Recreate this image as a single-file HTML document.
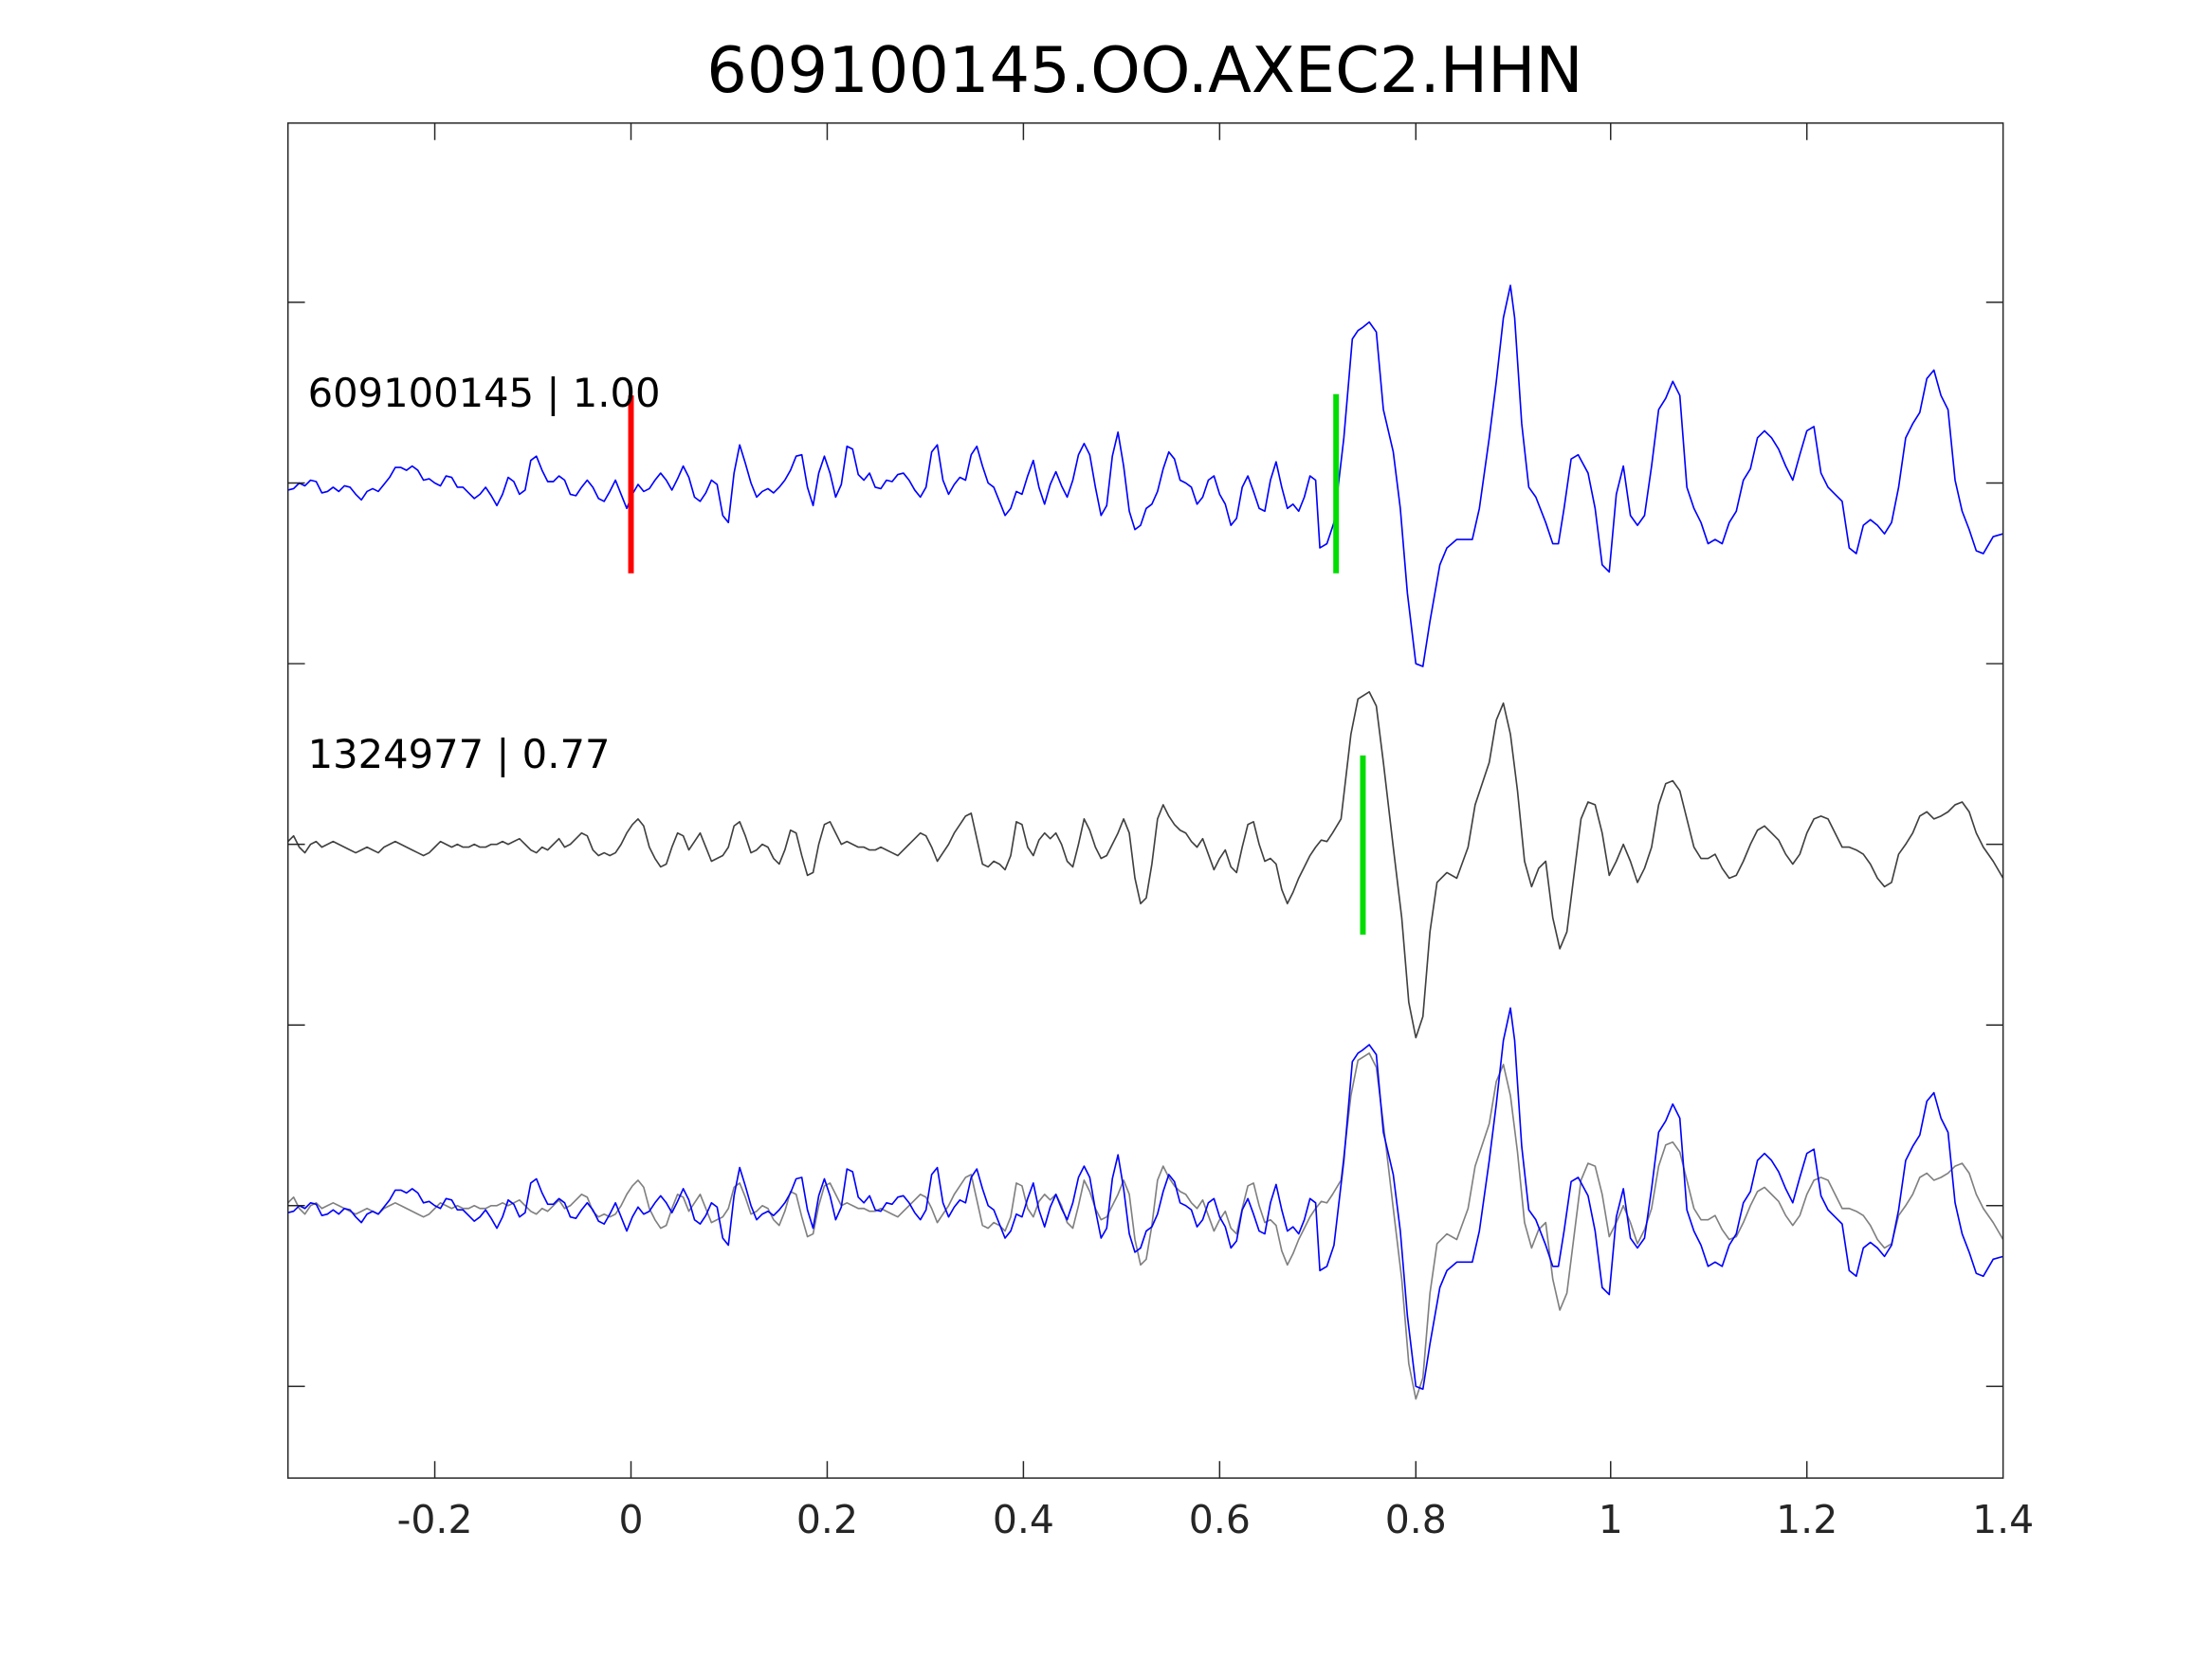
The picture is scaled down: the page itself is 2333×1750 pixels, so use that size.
<!DOCTYPE html>
<html><head><meta charset="utf-8"><style>html,body{margin:0;padding:0;background:#fff}svg{display:block}</style></head>
<body>
<svg width="2333" height="1750" viewBox="0 0 1567 1175" xmlns="http://www.w3.org/2000/svg" font-family="DejaVu Sans, Liberation Sans, sans-serif">
<rect width="1567" height="1175" fill="#fff"/>
<defs>
<polyline id="bt" fill="none" stroke-linejoin="round" points="204,347 208,346 212,342 216,344 220,340 224,341 228,349 232,348 236,345 240,348 244,344 248,345 252,350 256,354 260,348 264,346 268,348 272,343 276,338 280,331 284,331 288,333 292,330 296,333 300,340 304,339 308,342 312,344 316,337 320,338 324,345 328,345 332,349 336,353 340,350 344,345 348,351 352,358 356,350 360,338 364,341 368,350 372,347 376,326 380,323 384,333 388,341 392,341 396,337 400,340 404,350 408,351 412,345 416,340 420,345 424,353 428,355 432,348 436,340 440,350 444,360 448,350 452,343 456,348 460,346 464,340 468,335 472,340 476,347 480,339 484,330 488,338 492,352 496,355 500,349 504,340 508,343 512,365 516,370 520,335 524,315 528,328 532,342 536,352 540,348 544,346 548,349 552,345 556,340 560,333 564,323 568,322 572,345 576,358 580,335 584,323 588,335 592,352 596,343 600,316 604,318 608,336 612,340 616,335 620,345 624,346 628,340 632,341 636,336 640,335 644,340 648,347 652,352 656,345 660,320 664,315 668,340 672,350 676,343 680,338 684,340 688,322 692,316 696,330 700,342 704,345 708,355 712,365 716,360 720,348 724,350 728,337 732,326 736,345 740,357 744,343 748,334 752,344 756,352 760,340 764,322 768,314 772,322 776,345 780,365 784,358 788,323 792,306 796,330 800,362 804,375 808,372 812,360 816,357 820,348 824,332 828,320 832,325 836,340 840,342 844,345 848,357 852,352 856,340 860,337 864,350 868,357 872,372 876,367 880,345 884,337 888,348 892,360 896,362 900,340 904,327 908,345 912,360 916,357 920,362 924,352 928,337 932,340 935,388 940,385 945,370 952,310 958,240 962,234 965,232 970,228 975,235 980,290 987,320 992,360 997,420 1003,470 1008,472 1013,440 1020,400 1025,388 1032,382 1043,382 1048,360 1055,310 1060,270 1065,225 1070,202 1073,225 1078,300 1083,345 1088,352 1095,370 1100,385 1104,385 1108,360 1113,325 1118,322 1125,335 1130,360 1135,400 1140,405 1145,350 1150,330 1155,365 1160,372 1165,365 1170,330 1175,290 1180,282 1185,270 1190,280 1195,345 1200,360 1205,370 1210,385 1215,382 1220,385 1225,370 1230,362 1235,340 1240,332 1245,310 1250,305 1255,310 1260,318 1265,330 1270,340 1275,322 1280,305 1285,302 1290,335 1295,345 1300,350 1305,355 1310,388 1315,392 1320,372 1325,368 1330,372 1335,378 1340,370 1345,345 1350,310 1355,300 1360,292 1365,268 1370,262 1375,280 1380,290 1385,340 1390,362 1395,375 1400,390 1405,392 1412,380 1419,378"/>
<polyline id="gt" fill="none" stroke-linejoin="round" points="204,596 208,592 212,600 216,604 220,598 224,596 228,600 232,598 236,596 240,598 244,600 248,602 252,604 256,602 260,600 264,602 268,604 272,600 276,598 280,596 284,598 288,600 292,602 296,604 300,606 304,604 308,600 312,596 316,598 320,600 324,598 328,600 332,600 336,598 340,600 344,600 348,598 352,598 356,596 360,598 364,596 368,594 372,598 376,602 380,604 384,600 388,602 392,598 396,594 400,600 404,598 408,594 412,590 416,592 420,602 424,606 428,604 432,606 436,604 440,598 444,590 448,584 452,580 456,585 460,600 464,608 468,614 472,612 476,600 480,590 484,592 488,602 492,596 496,590 500,600 504,610 508,608 512,606 516,600 520,585 524,582 528,592 532,604 536,602 540,598 544,600 548,608 552,612 556,602 560,588 564,590 568,606 572,620 576,618 580,598 584,584 588,582 592,590 596,598 600,596 604,598 608,600 612,600 616,602 620,602 624,600 628,602 632,604 636,606 640,602 644,598 648,594 652,590 656,592 660,600 664,610 668,604 672,598 676,590 680,584 684,578 688,576 692,594 696,612 700,614 704,610 708,612 712,616 716,606 720,582 724,584 728,600 732,606 736,595 740,590 744,594 748,590 752,598 756,610 760,614 764,598 768,580 772,588 776,600 780,608 784,606 788,598 792,590 796,580 800,590 804,622 808,640 812,636 816,612 820,580 824,570 828,578 832,584 836,588 840,590 844,596 848,600 852,594 856,605 860,616 864,608 868,602 872,614 876,618 880,600 884,584 888,582 892,598 896,610 900,608 904,612 908,630 912,640 916,632 920,622 924,614 928,606 932,600 936,595 940,596 944,590 950,580 957,520 962,495 970,490 975,500 980,540 987,600 993,650 998,710 1003,735 1008,720 1013,660 1018,625 1025,618 1032,622 1040,600 1045,570 1050,555 1055,540 1060,510 1065,498 1070,520 1075,560 1080,610 1085,628 1090,615 1095,610 1100,650 1105,672 1110,660 1115,620 1120,580 1125,568 1130,570 1135,590 1140,620 1145,610 1150,598 1155,610 1160,625 1165,615 1170,600 1175,570 1180,555 1185,553 1190,560 1195,580 1200,600 1205,608 1210,608 1215,605 1220,615 1225,622 1230,620 1235,610 1240,598 1245,588 1250,585 1255,590 1260,595 1265,605 1270,612 1275,605 1280,590 1285,580 1290,578 1295,580 1300,590 1305,600 1310,600 1315,602 1320,605 1325,612 1330,622 1335,628 1340,625 1345,605 1350,598 1355,590 1360,578 1365,575 1370,580 1375,578 1380,575 1385,570 1390,568 1395,575 1400,590 1405,600 1412,610 1419,622"/>
</defs>
<text x="811" y="65" font-size="45" text-anchor="middle" fill="#000">609100145.OO.AXEC2.HHN</text>
<use href="#gt" stroke="#404040" stroke-width="1.1"/>
<use href="#gt" transform="translate(0,256)" stroke="#808080" stroke-width="1.1"/>
<use href="#bt" stroke="#0000ff" stroke-width="1.1"/>
<use href="#bt" transform="translate(0,512)" stroke="#0000ff" stroke-width="1.1"/>
<line x1="447" y1="280" x2="447" y2="406" stroke="#ff0000" stroke-width="4"/>
<line x1="946.5" y1="279" x2="946.5" y2="406" stroke="#00dd00" stroke-width="4"/>
<line x1="965.5" y1="535" x2="965.5" y2="662" stroke="#00dd00" stroke-width="4"/>
<text x="218" y="288" font-size="28" fill="#000">609100145 | 1.00</text>
<text x="218" y="544" font-size="28" fill="#000">1324977 | 0.77</text>
<rect x="204" y="87" width="1215" height="960" stroke="#262626" stroke-width="1" fill="none"/>
<g stroke="#262626" stroke-width="1">
<path d="M308,87v12M447,87v12M586,87v12M725,87v12M864,87v12M1003,87v12M1141,87v12M1280,87v12M308,1047v-12M447,1047v-12M586,1047v-12M725,1047v-12M864,1047v-12M1003,1047v-12M1141,1047v-12M1280,1047v-12"/>
<path d="M204,214h12M204,342h12M204,470h12M204,598h12M204,726h12M204,854h12M204,982h12M1419,214h-12M1419,342h-12M1419,470h-12M1419,598h-12M1419,726h-12M1419,854h-12M1419,982h-12"/>
</g>
<g font-size="27.5" fill="#262626" text-anchor="middle">
<text x="308" y="1086">-0.2</text>
<text x="447" y="1086">0</text>
<text x="586" y="1086">0.2</text>
<text x="725" y="1086">0.4</text>
<text x="864" y="1086">0.6</text>
<text x="1003" y="1086">0.8</text>
<text x="1141" y="1086">1</text>
<text x="1280" y="1086">1.2</text>
<text x="1419" y="1086">1.4</text>
</g>
</svg>
</body></html>
